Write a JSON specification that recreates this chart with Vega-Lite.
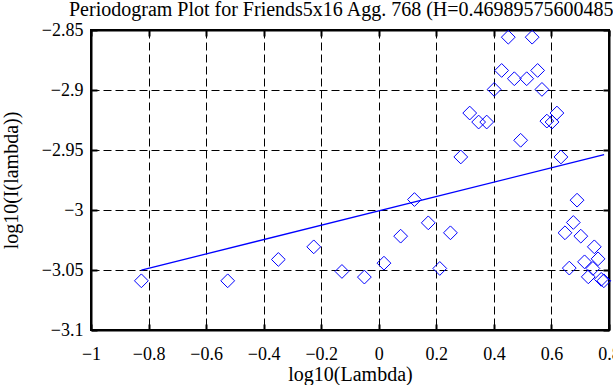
{
  "$schema": "https://vega.github.io/schema/vega-lite/v6.json",
  "autosize": "none",
  "width": 518,
  "height": 300,
  "padding": {"left": 91, "top": 30, "right": 4, "bottom": 55},
  "background": "white",
  "config": {
    "view": {"stroke": "black", "strokeWidth": 2},
    "font": "Liberation Serif",
    "axis": {
      "labelFont": "Liberation Serif",
      "titleFont": "Liberation Serif",
      "labelFontSize": 18,
      "titleFontSize": 20,
      "titleFontWeight": "normal",
      "labelColor": "black",
      "titleColor": "black",
      "domainColor": "black",
      "domainWidth": 2,
      "tickColor": "black",
      "tickWidth": 2,
      "gridColor": "black",
      "gridOpacity": 1,
      "gridDash": [8, 4],
      "gridWidth": 1
    }
  },
  "title": {
    "text": "Periodogram Plot for Friends5x16 Agg. 768 (H=0.469895756004853)",
    "font": "Liberation Serif",
    "fontSize": 20,
    "fontWeight": "normal",
    "color": "black",
    "anchor": "start",
    "frame": "group",
    "dx": -22,
    "offset": 1
  },
  "datasets": {
    "pts": [
      {"x": -0.825, "y": -3.059},
      {"x": -0.525, "y": -3.059},
      {"x": -0.349, "y": -3.0412},
      {"x": -0.226, "y": -3.0307},
      {"x": -0.128, "y": -3.0512},
      {"x": -0.05, "y": -3.0559},
      {"x": 0.018, "y": -3.0443},
      {"x": 0.076, "y": -3.0218},
      {"x": 0.124, "y": -2.9913},
      {"x": 0.172, "y": -3.0107},
      {"x": 0.212, "y": -3.0487},
      {"x": 0.249, "y": -3.019},
      {"x": 0.285, "y": -2.9558},
      {"x": 0.316, "y": -2.9192},
      {"x": 0.347, "y": -2.9267},
      {"x": 0.375, "y": -2.9267},
      {"x": 0.401, "y": -2.8995},
      {"x": 0.427, "y": -2.8837},
      {"x": 0.45, "y": -2.856},
      {"x": 0.471, "y": -2.8906},
      {"x": 0.493, "y": -2.9419},
      {"x": 0.514, "y": -2.8906},
      {"x": 0.533, "y": -2.856},
      {"x": 0.552, "y": -2.8837},
      {"x": 0.567, "y": -2.8995},
      {"x": 0.584, "y": -2.9259},
      {"x": 0.602, "y": -2.9267},
      {"x": 0.619, "y": -2.9192},
      {"x": 0.633, "y": -2.9558},
      {"x": 0.647, "y": -3.019},
      {"x": 0.662, "y": -3.0484},
      {"x": 0.676, "y": -3.0104},
      {"x": 0.689, "y": -2.9918},
      {"x": 0.702, "y": -3.0218},
      {"x": 0.715, "y": -3.0432},
      {"x": 0.728, "y": -3.0557},
      {"x": 0.744, "y": -3.0487},
      {"x": 0.749, "y": -3.0307},
      {"x": 0.762, "y": -3.0407},
      {"x": 0.773, "y": -3.0578},
      {"x": 0.782, "y": -3.059}
    ],
    "fit": [
      {"x": -0.825, "y": -3.0501},
      {"x": 0.783, "y": -2.9538}
    ]
  },
  "layer": [
    {
      "data": {"name": "pts"},
      "mark": {"type": "point", "shape": "diamond", "size": 190, "filled": false, "stroke": "#0000ff", "strokeWidth": 1, "opacity": 1},
      "encoding": {
        "x": {
          "field": "x", "type": "quantitative",
          "scale": {"domain": [-1, 0.8], "nice": false, "zero": false},
          "axis": {
            "orient": "bottom", "title": "log10(Lambda)",
            "values": [-1, -0.8, -0.6, -0.4, -0.2, 0, 0.2, 0.4, 0.6, 0.8],
            "format": "~g", "grid": true, "tickSize": -6, "labelPadding": 21,
            "titlePadding": 1, "labelFlush": false, "labelOverlap": false
          }
        },
        "y": {
          "field": "y", "type": "quantitative",
          "scale": {"domain": [-3.1, -2.85], "nice": false, "zero": false},
          "axis": {
            "orient": "left", "title": "log10(I(lambda))",
            "values": [-3.1, -3.05, -3, -2.95, -2.9, -2.85],
            "format": "~g", "grid": true, "tickSize": -6, "labelPadding": 14,
            "titlePadding": 20, "labelFlush": false, "labelOverlap": false
          }
        }
      }
    },
    {
      "data": {"name": "fit"},
      "mark": {"type": "line", "color": "#0000ff", "strokeWidth": 1.3},
      "encoding": {
        "x": {
          "field": "x", "type": "quantitative",
          "axis": {
            "orient": "top", "title": null, "labels": false, "grid": false,
            "values": [-1, -0.8, -0.6, -0.4, -0.2, 0, 0.2, 0.4, 0.6, 0.8],
            "tickSize": -6
          }
        },
        "y": {
          "field": "y", "type": "quantitative",
          "axis": {
            "orient": "right", "title": null, "labels": false, "grid": false,
            "values": [-3.1, -3.05, -3, -2.95, -2.9, -2.85],
            "tickSize": -6
          }
        }
      }
    }
  ],
  "resolve": {"axis": {"x": "independent", "y": "independent"}}
}
